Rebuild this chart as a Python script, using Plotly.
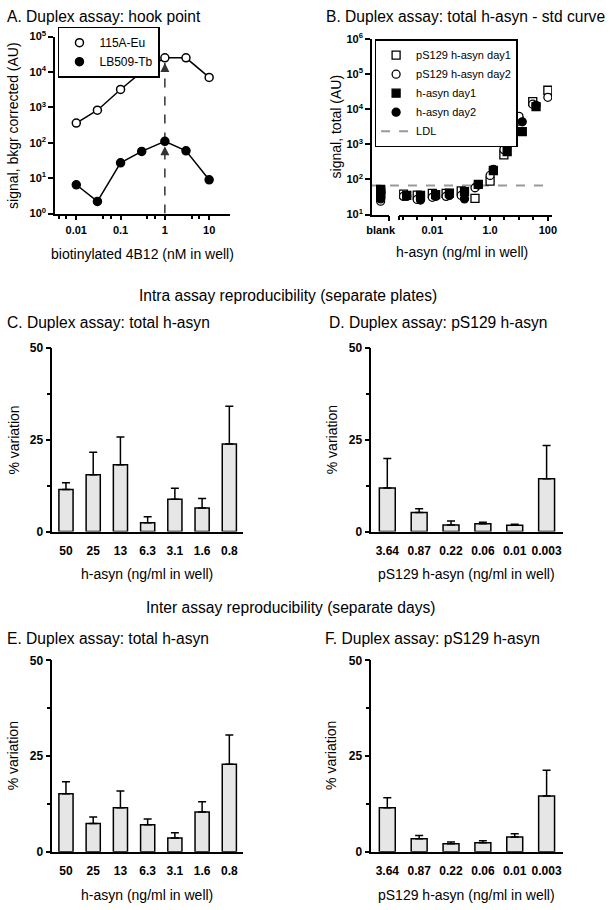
import plotly.graph_objects as go

W, H = 610, 910
FONT = "Liberation Sans, Arial, sans-serif"


def fx(p):
    return p / W


def fy(p):
    return 1 - p / H


# ---------------- data ----------------
# A. hook point
hook_dose = [0.01, 0.03, 0.1, 0.3, 1, 3, 10]
hook_115a_eu = [360, 830, 3200, 10000, 25000, 25000, 7000]
hook_lb509_tb = [6.5, 2.2, 27, 57, 110, 59, 9]

# B. std curve
std_conc_ps129 = [100, 30, 10, 3, 1, 0.3, 0.1, 0.03, 0.01, 0.003, 0.001]
std_ps129_day1 = [35000, 16500, 4600, 500, 90, 29, 47, 40, 40, 36, 38]
std_ps129_day2 = [22000, 14000, 6300, 710, 130, 58, 35, 33, 31, 27, 33]
std_conc_hasyn = [39, 13, 3.9, 1.3, 0.39, 0.13, 0.039, 0.013, 0.0039, 0.0013]
std_hasyn_day1 = [12000, 2300, 620, 180, 72, 45, 41, 37, 35, 35]
std_hasyn_day2 = [13000, 4400, 1150, 195, 70, 28, 35, 33, 26, 33]
blank_ps129_day1 = [52, 40]
blank_ps129_day2 = [30, 24]
blank_hasyn_day1 = [48, 36]
blank_hasyn_day2 = [28, 44]
ldl = 67

# C-F. reproducibility bars
total_labels = ["50", "25", "13", "6.3", "3.1", "1.6", "0.8"]
ps129_labels = ["3.64", "0.87", "0.22", "0.06", "0.01", "0.003"]
intra_total_cv = [11.5, 15.5, 18.2, 2.4, 8.8, 6.4, 23.9]
intra_total_err = [1.8, 6.1, 7.6, 1.6, 3.0, 2.6, 10.3]
intra_ps129_cv = [11.9, 5.2, 1.8, 2.1, 1.7, 14.4]
intra_ps129_err = [8.0, 1.0, 1.1, 0.4, 0.3, 9.1]
inter_total_cv = [15.2, 7.4, 11.5, 7.1, 3.6, 10.4, 22.9]
inter_total_err = [3.1, 1.7, 4.4, 1.5, 1.4, 2.7, 7.6]
inter_ps129_cv = [11.5, 3.4, 2.1, 2.4, 3.9, 14.6]
inter_ps129_err = [2.6, 0.9, 0.5, 0.5, 0.8, 6.7]

# ---------------- figure ----------------
fig = go.Figure()

# --- Panel A ---
A_YMIN = 1
hook_i = max(range(len(hook_lb509_tb)), key=lambda i: hook_lb509_tb[i])
hook_x = hook_dose[hook_i]
fig.add_trace(go.Scatter(
    x=[hook_x, hook_x], y=[A_YMIN, hook_115a_eu[hook_i] * 0.72],
    mode="lines", line=dict(color="#333333", width=1.5, dash="dash"),
    showlegend=False, hoverinfo="skip", xaxis="x", yaxis="y"))
fig.add_trace(go.Scatter(
    x=[hook_x, hook_x], y=[hook_lb509_tb[hook_i] * 0.72, hook_115a_eu[hook_i] * 0.72],
    mode="markers", marker=dict(symbol="arrow-up", size=9, color="#333333"),
    showlegend=False, hoverinfo="skip", xaxis="x", yaxis="y"))
for name, vals, fill in [("115A-Eu", hook_115a_eu, "white"),
                         ("LB509-Tb", hook_lb509_tb, "black")]:
    fig.add_trace(go.Scatter(
        x=hook_dose, y=vals, mode="lines+markers", name=name,
        line=dict(color="black", width=1.5),
        marker=dict(symbol="circle", size=8, color=fill,
                    line=dict(color="black", width=1.5)),
        showlegend=False, xaxis="x", yaxis="y"))
    fig.add_trace(go.Scatter(
        x=[None], y=[None], mode="markers", name=name,
        marker=dict(symbol="circle", size=8, color=fill,
                    line=dict(color="black", width=1.5)),
        legend="legend", xaxis="x", yaxis="y"))

# --- Panel B ---
b_series = [
    ("pS129 h-asyn day1", std_conc_ps129, std_ps129_day1, blank_ps129_day1, "square", "white"),
    ("pS129 h-asyn day2", std_conc_ps129, std_ps129_day2, blank_ps129_day2, "circle", "white"),
    ("h-asyn day1", std_conc_hasyn, std_hasyn_day1, blank_hasyn_day1, "square", "black"),
    ("h-asyn day2", std_conc_hasyn, std_hasyn_day2, blank_hasyn_day2, "circle", "black"),
]
for name, xs, ys, blanks, sym, fill in b_series:
    mk = dict(symbol=sym, size=8, color=fill, line=dict(color="black", width=1.3))
    fig.add_trace(go.Scatter(
        x=[0.5] * len(blanks), y=blanks, mode="markers", marker=mk,
        legendgroup=name, showlegend=False, xaxis="x2", yaxis="y2"))
    fig.add_trace(go.Scatter(
        x=xs, y=ys, mode="markers", marker=mk, name=name,
        legendgroup=name, legend="legend2", xaxis="x3", yaxis="y2"))
fig.add_trace(go.Scatter(
    x=[None], y=[None], mode="lines", name="LDL",
    line=dict(color="#999999", width=2, dash="dash"),
    legend="legend2", xaxis="x3", yaxis="y2"))
fig.add_shape(type="line", xref="paper", yref="y2",
              x0=fx(373.3), x1=fx(557), y0=ldl, y1=ldl,
              line=dict(color="#999999", width=2, dash="dash"), layer="below")

# --- Panels C-F ---
bar_panels = [
    ("x4", "y3", total_labels, intra_total_cv, intra_total_err, 0.52),
    ("x5", "y4", ps129_labels, intra_ps129_cv, intra_ps129_err, 0.5),
    ("x6", "y5", total_labels, inter_total_cv, inter_total_err, 0.52),
    ("x7", "y6", ps129_labels, inter_ps129_cv, inter_ps129_err, 0.5),
]
for xa, ya, labels, vals, errs, bw in bar_panels:
    fig.add_trace(go.Bar(
        x=labels, y=vals, width=bw,
        marker=dict(color="#e6e6e6", line=dict(color="black", width=1.5)),
        error_y=dict(type="data", symmetric=False, array=errs,
                     arrayminus=[0] * len(errs), color="black",
                     thickness=1.5, width=4),
        showlegend=False, xaxis=xa, yaxis=ya))

# ---------------- axes ----------------
tickfont_small = dict(family=FONT, size=11, color="black", weight="bold")
tickfont_bar = dict(family=FONT, size=12, color="black", weight="bold")
base = dict(showline=True, linecolor="black", linewidth=1.5, ticks="outside",
            tickcolor="black", tickwidth=1.5, ticklen=5, showgrid=False,
            zeroline=False)


def sup(n):
    return "10<sup>%d</sup>" % n


layout_axes = {}
# A
layout_axes["xaxis"] = dict(base, type="log", range=[-2.48, 1.46],
                            domain=[fx(50), fx(228)], anchor="y",
                            tickmode="array", tickvals=[0.01, 0.1, 1, 10],
                            ticktext=["0.01", "0.1", "1", "10"], tickfont=tickfont_small,
                            minor=dict(tickmode="array",
                                       tickvals=[0.004, 0.006, 0.04, 0.06, 0.4, 0.6, 4, 6],
                                       ticks="outside", ticklen=4, tickwidth=1.5,
                                       tickcolor="black"))
layout_axes["yaxis"] = dict(base, type="log", range=[0, 5],
                            domain=[fy(209), fy(29)], anchor="x",
                            tickmode="array", tickvals=[10 ** k for k in range(6)],
                            ticktext=[sup(k) for k in range(6)], tickfont=tickfont_small)
# B
layout_axes["xaxis2"] = dict(base, type="linear", range=[0, 1],
                             domain=[fx(373.3), fx(391)], anchor="y2",
                             tickmode="array", tickvals=[0.5], ticktext=["blank"],
                             ticks="outside", tickcolor="rgba(0,0,0,0)",
                             tickfont=tickfont_small,
                             minor=dict(tickmode="array", tickvals=[1], ticks="outside",
                                        ticklen=5, tickwidth=1.5, tickcolor="black"))
layout_axes["xaxis3"] = dict(base, type="log", range=[-3.15, 2.145],
                             domain=[fx(401), fx(557)], anchor="y2",
                             tickmode="array", tickvals=[0.01, 1, 100],
                             ticktext=["0.01", "1.0", "100"], tickfont=tickfont_small,
                             minor=dict(tickmode="array",
                                        tickvals=[10 ** -3.15, 0.001, 0.003, 0.03, 0.1,
                                                  0.3, 3, 10, 30],
                                        ticks="outside", ticklen=4, tickwidth=1.5,
                                        tickcolor="black"))
layout_axes["yaxis2"] = dict(base, type="log", range=[1, 6],
                             domain=[fy(210), fy(31.7)], anchor="x2",
                             tickmode="array", tickvals=[10 ** k for k in range(1, 7)],
                             ticktext=[sup(k) for k in range(1, 7)], tickfont=tickfont_small)
# C-F
bar_geo = [
    ("xaxis4", "yaxis3", "x4", "y3", 47.3, 241.7, 346, 532.3, 7),
    ("xaxis5", "yaxis4", "x5", "y4", 372.7, 567.7, 346, 532.3, 6),
    ("xaxis6", "yaxis5", "x6", "y5", 47.3, 241.7, 663.3, 858, 7),
    ("xaxis7", "yaxis6", "x7", "y6", 372.7, 567.7, 663.3, 858, 6),
]
for xk, yk, xn, yn, x0, x1, y0, y1, n in bar_geo:
    layout_axes[xk] = dict(base, type="category", range=[-0.5, n - 0.5],
                           domain=[fx(x0), fx(x1)], anchor=yn,
                           ticks="outside", tickcolor="rgba(0,0,0,0)", ticklen=7,
                           tickfont=tickfont_bar)
    layout_axes[yk] = dict(base, range=[0, 50], domain=[fy(y1), fy(y0)], anchor=xn,
                           tickmode="array", tickvals=[0, 25, 50], tickfont=tickfont_bar,
                           minor=dict(tickmode="array", tickvals=[12.5, 37.5],
                                      ticks="outside", ticklen=4, tickwidth=1.5,
                                      tickcolor="black"))

# ---------------- text ----------------
ann = []


def text(t, x, y, size, xanchor="center", angle=0):
    ann.append(dict(text=t, x=fx(x), y=fy(y), xref="paper", yref="paper",
                    xanchor=xanchor, yanchor="middle", showarrow=False,
                    textangle=angle, borderpad=0,
                    font=dict(family=FONT, size=size, color="black")))


TS = 15.6
text("A. Duplex assay: hook point", 0, 9, TS, "left")
text("B. Duplex assay: total h-asyn - std curve", 325, 9, TS, "left")
text("Intra assay reproducibility (separate plates)", 288, 292, TS)
text("C. Duplex assay: total h-asyn", 0, 320, TS, "left")
text("D. Duplex assay: pS129 h-asyn", 328, 320, TS, "left")
text("Inter assay reproducibility (separate days)", 290, 610, TS)
text("E. Duplex assay: total h-asyn", 0, 641, TS, "left")
text("F. Duplex assay: pS129 h-asyn", 324, 641, TS, "left")

AS = 14
text("biotinylated 4B12 (nM in well)", 139, 250, AS)
text("signal, bkgr corrected (AU)", 7, 119, AS, angle=-90)
text("h-asyn (ng/ml in well)", 465, 248, AS)
text("signal, total (AU)", 337, 121, AS, angle=-90)

for xc, yc, lab in [(144, 575, "h-asyn (ng/ml in well)"),
                    (470, 575, "pS129 h-asyn (ng/ml in well)"),
                    (144, 902, "h-asyn (ng/ml in well)"),
                    (470, 902, "pS129 h-asyn (ng/ml in well)")]:
    text(lab, xc, yc, AS)
for xv, yv in [(8, 439), (332, 439), (8, 760), (332, 760)]:
    text("% variation", xv, yv, AS, angle=-90)

legend_style = dict(bgcolor="white", bordercolor="black", borderwidth=1.5,
                    xanchor="left", yanchor="top", tracegroupgap=0)

fig.update_layout(
    width=W, height=H, margin=dict(l=0, r=0, t=0, b=0),
    paper_bgcolor="white", plot_bgcolor="white",
    font=dict(family=FONT, size=12, color="black"),
    annotations=ann,
    legend=dict(legend_style, x=fx(53), y=fy(19),
                font=dict(family=FONT, size=12, color="black")),
    legend2=dict(legend_style, x=fx(376), y=fy(31.7),
                 font=dict(family=FONT, size=11, color="black")),
    **layout_axes,
)

fig.write_html("out.html", config={"displayModeBar": False},
               post_script="document.body.style.margin='0px';"
               "document.body.style.padding='0px';")
